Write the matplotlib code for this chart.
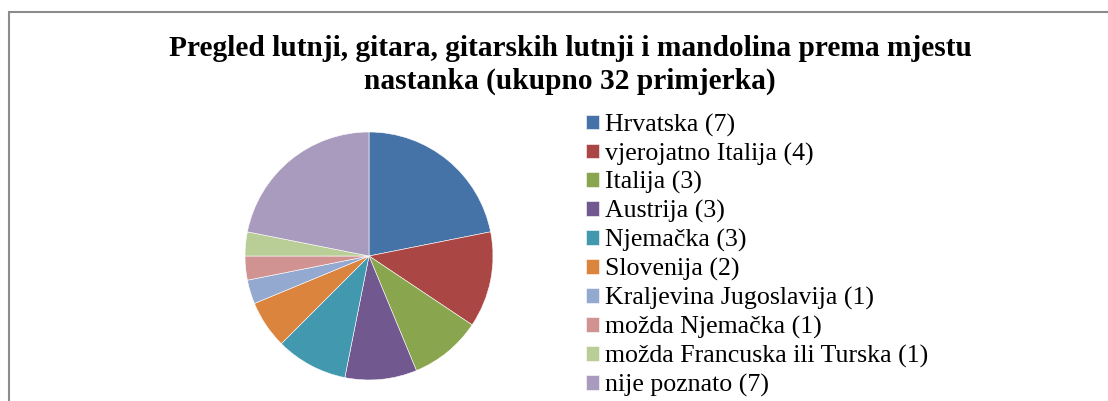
import matplotlib
matplotlib.use("Agg")
import matplotlib.pyplot as plt
from matplotlib.patches import Rectangle

# Data (32 instruments in total)
labels = ["Hrvatska (7)", "vjerojatno Italija (4)", "Italija (3)", "Austrija (3)",
          "Njemačka (3)", "Slovenija (2)", "Kraljevina Jugoslavija (1)",
          "možda Njemačka (1)", "možda Francuska ili Turska (1)", "nije poznato (7)"]
counts = [7, 4, 3, 3, 3, 2, 1, 1, 1, 7]
colors = ["#4572A7", "#AA4643", "#89A54E", "#71588F", "#4198AF",
          "#DB843D", "#93A9CF", "#D19392", "#B9CD96", "#A99BBD"]

title_lines = ["Pregled lutnji, gitara, gitarskih lutnji i mandolina prema mjestu",
               "nastanka (ukupno 32 primjerka)"]

plt.rcParams['font.family'] = ['Liberation Serif', 'DejaVu Serif']

W, H = 1108, 401
fig = plt.figure(figsize=(W / 100, H / 100), dpi=100)

# chart frame (cut off at the right and bottom like the original)
fig.patches.append(Rectangle((9 / W, -0.1), 1.2, (H - 12) / H + 0.1, transform=fig.transFigure,
                             fill=False, edgecolor="#8c8c8c", linewidth=1.5))

# title, two lines
fig.text(570 / W, 1 - 55.5 / H, title_lines[0], ha="center", va="baseline",
         fontsize=21.2, fontweight="bold")
fig.text(570 / W, 1 - 88.5 / H, title_lines[1], ha="center", va="baseline",
         fontsize=21.2, fontweight="bold")

# pie: centre (369, 256) px, radius 124 px
cx, cy, r = 369, 256, 124
ax = fig.add_axes([(cx - r) / W, (H - cy - r) / H, 2 * r / W, 2 * r / H])
wedges, _ = ax.pie(counts, colors=colors, startangle=90, counterclock=False,
                   wedgeprops=dict(edgecolor="white", linewidth=0.4))
ax.set_xlim(-1, 1)
ax.set_ylim(-1, 1)
ax.set_aspect("equal")
ax.axis("off")

fig.legend(wedges, labels, loc="upper left", bbox_to_anchor=(586 / W, 1 - 113.5 / H),
           frameon=False, fontsize=18.6, handlelength=0.5, handleheight=0.5,
           handletextpad=0.24, labelspacing=0.225, borderpad=0, borderaxespad=0)

fig.savefig("out.png", dpi=100)
